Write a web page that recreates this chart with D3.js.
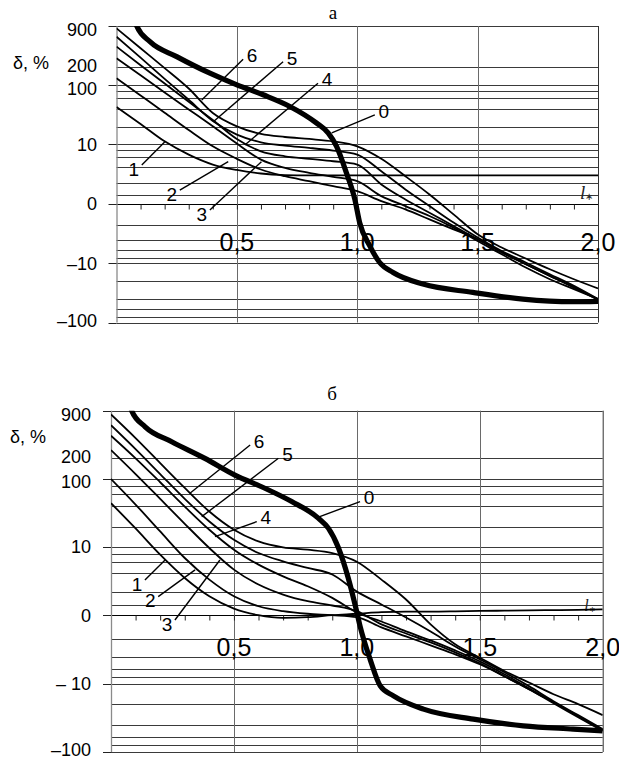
<!DOCTYPE html>
<html><head><meta charset="utf-8">
<script src="https://cdn.jsdelivr.net/npm/d3@7"></script>
<style>body{margin:0;background:#fff}svg{display:block}</style>
</head><body><svg id="c" width="619" height="760"></svg>
<script>
// ---------- data ----------
const xs = [0,0.1,0.2,0.3,0.4,0.5,0.6,0.7,0.8,0.9,1.0,1.1,1.2,1.3,1.4,1.5,1.6,1.7,1.8,1.9,2.0];
const xTickValues = [0.5, 1.0, 1.5, 2.0];
const xTickLabels = ["0,5", "1,0", "1,5", "2,0"];
const xMinorTicks = [0.1,0.2,0.3,0.4,0.5,0.6,0.7,0.8,0.9,1.0,1.1,1.2,1.3,1.4,1.5,1.6,1.7,1.8,1.9];
const yTickValues = [900, 200, 100, 10, 0, -10, -100];
const yTickLabelsA = ["900", "200", "100", "10", "0", "\u201310", "\u2013100"];
const yTickLabelsB = ["900", "200", "100", "10", "0", "\u2013 10", "\u2013100"];
const yTickMarks = [1000, 100, 10, 0, -10, -100];
const gridValues = [1000, 200, 100, 80, 60, 40, 20, 10, 8, 6, 4, 2, 1, 0, -2, -4, -6, -8, -10, -20, -40, -60, -80, -100];

// panel а
const a1 = [43.1, 22.3, 11.3, 6.7, 4.5, 3.6, 3.1, 2.9, 2.85, 2.85, 2.85, 2.85, 2.85, 2.85, 2.85, 2.85, 2.85, 2.85, 2.85, 2.85, 2.85];
const a2 = [132, 67.5, 34.5, 17.6, 9.3, 5.67, 3.67, 2.75, 2.2, 1.72, 1.3, 0.49, -0.73, -1.53, -2.49, -3.82, -6.38, -10.35, -16.3, -25.6, -40.3];
const a3 = [286, 148, 75.7, 39.2, 20.3, 10.35, 5.5, 3.93, 3.19, 2.68, 2.2, 0.91, -0.43, -1.25, -2.3, -4.1, -7.0, -11.8, -18.6, -27.3, -40.3];
const a4 = [449, 218, 107, 52.8, 26.0, 12.4, 7.64, 6.27, 5.67, 5.14, 4.5, 1.88, 0.645, -0.99, -2.14, -3.82, -6.53, -10.35, -16.3, -25.6, -41.4];
const a5 = [661, 293, 128.5, 57.0, 25.0, 14.7, 10.9, 9.57, 8.75, 7.86, 6.72, 3.41, 1.44, -0.43, -1.81, -3.56, -6.13, -9.68, -15.3, -24.1, -40.3];
const a6 = [914, 422, 195, 88.3, 34.1, 20.3, 15.1, 13.4, 12.4, 11.3, 9.3, 5.67, 2.75, 1.04, -1.12, -3.1, -5.35, -8.28, -12.6, -18.6, -26.6];
const a0x = [0.078, 0.084, 0.139, 0.25, 0.388, 0.5, 0.609, 0.72, 0.83, 0.879, 0.914, 0.955, 0.99, 1.01, 1.052, 1.093, 1.149, 1.273, 1.48, 1.688, 1.895, 2.0];
const a0v = [1400, 1000, 545, 305, 160, 102, 69.2, 44, 23.2, 15.7, 9.3, 3.19, 0.65, -1.81, -5.0, -9.68, -14.3, -22.5, -31, -40.3, -44.7, -44];

// panel б
const b1 = [44.2, 18.8, 7.71, 3.40, 1.63, 0.77, 0.14, -0.41, -0.35, 0.14, 0.35, 0.5, 0.55, 0.55, 0.57, 0.6, 0.62, 0.64, 0.66, 0.68, 0.71];
const b2 = [100, 42.2, 17.0, 6.88, 3.2, 1.63, 0.93, 0.58, 0.35, 0.14, -0.35, -1.11, -1.76, -2.55, -3.57, -5.09, -7.71, -12.0, -18.6, -29.8, -47.7];
const b3 = [265, 118, 51.1, 22.0, 9.68, 4.59, 2.66, 1.76, 1.27, 0.98, 0.58, -0.91, -1.54, -2.27, -3.32, -4.92, -7.71, -12.0, -19.3, -30.8, -49.3];
const b4 = [429, 200, 89.5, 39.4, 18.0, 9.15, 5.47, 3.61, 2.49, 1.51, 0.47, -0.71, -1.39, -2.09, -3.09, -4.59, -7.19, -11.6, -18.6, -29.8, -47.7];
const b5 = [614, 274, 118, 51.1, 23.8, 12.8, 8.16, 6.13, 4.87, 3.85, 2.0, 1.05, -0.38, -1.39, -2.66, -4.27, -6.72, -10.8, -18.0, -28.8, -46.1];
const b6 = [881, 397, 171, 74.0, 33.3, 18.0, 12.1, 9.88, 9.15, 8.16, 6.06, 3.2, 1.39, -0.91, -2.45, -4.03, -6.43, -9.54, -14.2, -19.9, -28.8];
const b0x = [0.078, 0.084, 0.139, 0.247, 0.382, 0.504, 0.626, 0.735, 0.843, 0.884, 0.925, 0.965, 0.999, 1.013, 1.054, 1.095, 1.149, 1.271, 1.474, 1.677, 1.88, 2.0];
const b0v = [1400, 1000, 581, 351, 200, 114, 73.1, 46.7, 26.7, 19.0, 9.79, 3.40, 0.58, -1.02, -4.27, -10.7, -15.0, -23.5, -33, -41.3, -46.1, -48.9];

// curve labels: text, point on curve (x, v), end of leader line (x, v)
const annLabels = ["6", "5", "4", "3", "2", "1", "0"];
const annA_x  = [0.354, 0.402, 0.533, 0.602, 0.464, 0.201, 0.894];
const annA_v  = [56.5, 24.3, 9.8, 5.06, 5.06, 11.15, 15.7];
const annA_lx = [0.526, 0.692, 0.837, 0.388, 0.263, 0.105, 1.073];
const annA_lv = [274, 250, 108, -0.78, 1.39, 4.42, 31.6];
const annB_x  = [0.321, 0.369, 0.423, 0.443, 0.342, 0.22, 0.83];
const annB_v  = [61.7, 28.0, 14.3, 6.43, 4.54, 6.43, 26.5];
const annB_lx = [0.566, 0.681, 0.593, 0.260, 0.192, 0.138, 1.013];
const annB_lv = [315, 201, 23.7, -0.6, 1.6, 3.16, 46.5];

// ---------- drawing ----------
const svg = d3.select("#c");
const T = v => Math.sign(v) * 0.5 * Math.log10(1 + v * v);
const yLabelNudge = [1, -2, 3, 0, 0, 0, -2];

function drawPanel(P) {
  const g = svg.append("g");
  const x = d3.scaleLinear().domain([0, 2]).range([P.left, P.right]);
  const yl = d3.scaleLinear().domain([T(-100), T(1000)]).range([P.bottom, P.top]);
  const y = v => yl(T(v));

  const clipId = "clip" + P.id;
  svg.append("clipPath").attr("id", clipId).append("rect")
    .attr("x", P.left).attr("y", P.top).attr("width", P.right - P.left).attr("height", P.bottom - P.top);

  // horizontal gridlines
  g.selectAll(".hg").data(gridValues).join("line")
    .attr("x1", P.left).attr("x2", P.right)
    .attr("y1", d => Math.round(y(d)) + 0.5).attr("y2", d => Math.round(y(d)) + 0.5)
    .attr("stroke", d => (d === 0 ? "#000" : "#3a3a3a")).attr("stroke-width", 1);

  // vertical gridlines
  g.selectAll(".vg").data(xTickValues.slice(0, 3)).join("line")
    .attr("x1", d => Math.round(x(d)) + 0.5).attr("x2", d => Math.round(x(d)) + 0.5)
    .attr("y1", P.top).attr("y2", P.bottom)
    .attr("stroke", "#6a6a6a").attr("stroke-width", 1);

  // left axis & right border
  g.append("line").attr("x1", P.left + 0.5).attr("x2", P.left + 0.5).attr("y1", P.top).attr("y2", P.bottom)
    .attr("stroke", "#8a8a8a").attr("stroke-width", 1.3);
  g.append("line").attr("x1", P.right + 0.5).attr("x2", P.right + 0.5).attr("y1", P.top).attr("y2", P.bottom)
    .attr("stroke", "#333").attr("stroke-width", 1);

  // y tick marks
  g.selectAll(".yt").data(yTickMarks).join("line")
    .attr("x1", P.left - 8).attr("x2", P.left)
    .attr("y1", d => Math.round(y(d)) + 0.5).attr("y2", d => Math.round(y(d)) + 0.5)
    .attr("stroke", "#222").attr("stroke-width", 1);

  // y tick labels
  g.selectAll(".yl").data(yTickValues).join("text")
    .attr("x", P.ylabX).attr("y", (d, i) => y(d) + yLabelNudge[i])
    .attr("dy", "0.35em").attr("text-anchor", "end")
    .attr("font-family", "Liberation Sans, Arial, sans-serif").attr("font-size", 18)
    .text((d, i) => P.yLabels[i]);

  g.append("text").attr("x", P.deltaX).attr("y", P.deltaY)
    .attr("font-family", "Liberation Sans, Arial, sans-serif").attr("font-size", 18)
    .text("\u03b4, %");

  // minor ticks on zero line
  const ax = d3.axisBottom(x).tickValues(xMinorTicks).tickSize(5).tickFormat("");
  const axG = g.append("g").attr("transform", `translate(0,${Math.round(y(0)) + 0.5})`).call(ax);
  axG.select(".domain").remove();
  axG.selectAll(".tick line").attr("stroke", "#222");

  // x tick labels
  g.selectAll(".xl").data(xTickValues).join("text")
    .attr("x", d => x(d)).attr("y", P.xlabY)
    .attr("text-anchor", "middle")
    .attr("font-family", "Liberation Sans, Arial, sans-serif").attr("font-size", 25)
    .text((d, i) => xTickLabels[i]);

  // l* label
  const lt = g.append("text").attr("x", x(1.925)).attr("y", P.lstarY)
    .attr("font-family", "Liberation Serif, Times New Roman, serif").attr("font-style", "italic")
    .attr("font-size", P.lstarSize).attr("fill", "#222");
  lt.append("tspan").text("l");
  lt.append("tspan").attr("font-size", P.lstarSize * 0.5).attr("dy", 1).attr("font-style", "normal").text("\u2217");

  // title
  g.append("text").attr("x", P.titleX).attr("y", P.titleY).attr("text-anchor", "middle")
    .attr("font-family", "Liberation Serif, Times New Roman, serif").attr("font-size", 19)
    .text(P.title);

  // curves
  const line = d3.line().x(d => x(d[0])).y(d => y(d[1])).curve(d3.curveMonotoneX);
  const cg = g.append("g").attr("clip-path", `url(#${clipId})`);
  P.series.forEach(s => {
    cg.append("path").datum(xs.map((xv, i) => [xv, s[i]]))
      .attr("d", line).attr("fill", "none").attr("stroke", "#000").attr("stroke-width", 1.8);
  });
  cg.append("path").datum(P.thickX.map((xv, i) => [xv, P.thickV[i]]))
    .attr("d", line).attr("fill", "none").attr("stroke", "#000").attr("stroke-width", 5.2)
    .attr("stroke-linejoin", "round");

  // annotations
  annLabels.forEach((t, i) => {
    const x0 = x(P.ax[i]), y0 = y(P.av[i]), x1 = x(P.alx[i]), y1 = y(P.alv[i]);
    g.append("line").attr("x1", x0).attr("y1", y0).attr("x2", x1).attr("y2", y1)
      .attr("stroke", "#000").attr("stroke-width", 1.4);
    const right = x1 > x0;
    g.append("text").attr("x", x1 + (right ? 9 : -8)).attr("y", y1 + (right ? -4 : 4))
      .attr("dy", "0.36em").attr("text-anchor", "middle")
      .attr("font-family", "Liberation Sans, Arial, sans-serif").attr("font-size", 19)
      .text(t);
  });
}

drawPanel({
  id: "a", left: 116.5, right: 598, top: 26, bottom: 322.5,
  ylabX: 97, deltaX: 13, deltaY: 69, xlabY: 251, lstarY: 199, lstarSize: 19,
  titleX: 333, titleY: 19, title: "\u0430",
  yLabels: yTickLabelsA,
  series: [a1, a2, a3, a4, a5, a6], thickX: a0x, thickV: a0v,
  ax: annA_x, av: annA_v, alx: annA_lx, alv: annA_lv
});
drawPanel({
  id: "b", left: 111, right: 602.7, top: 410.7, bottom: 752,
  ylabX: 91, deltaX: 10, deltaY: 443, xlabY: 656, lstarY: 611, lstarSize: 16,
  titleX: 332, titleY: 400, title: "\u0431",
  yLabels: yTickLabelsB,
  series: [b1, b2, b3, b4, b5, b6], thickX: b0x, thickV: b0v,
  ax: annB_x, av: annB_v, alx: annB_lx, alv: annB_lv
});
</script>
</body></html>
